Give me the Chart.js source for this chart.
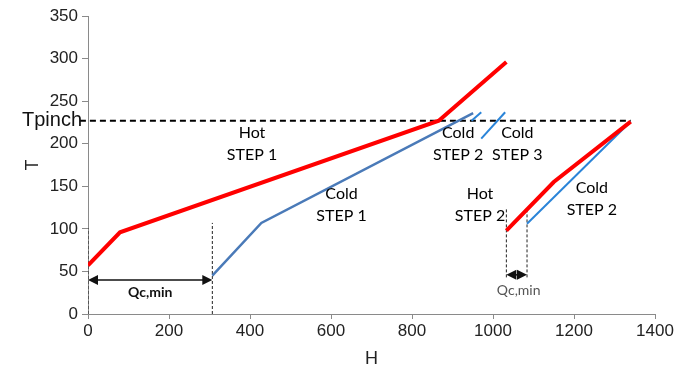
<!DOCTYPE html>
<html>
<head>
<meta charset="utf-8">
<script src="https://cdn.jsdelivr.net/npm/chart.js@4.4.1/dist/chart.umd.min.js"></script>
<style>
  html, body { margin: 0; padding: 0; background: #fff; }
  #wrap { width: 683px; height: 373px; }
</style>
</head>
<body>
<div id="wrap"><canvas id="chart" width="683" height="373"></canvas></div>
<script>
// composite curves, H vs T
const hot1H = [0, 79, 866, 1033];
const hot1T = [57, 96, 227, 296];
const cold1H = [307, 428, 951];
const cold1T = [45, 107, 236];
const cold2aH = [947, 971];
const cold2aT = [227, 237];
const cold3H = [971, 1030];
const cold3T = [206, 237];
const hot2H = [1033, 1150, 1340];
const hot2T = [98, 155, 226];
const cold2bH = [1084, 1340];
const cold2bT = [106, 226];

const tPinch = 227;
const pinchH = [-20, 1340];

// Qc,min markers
const qcLeftH = [0, 307];
const qcLeftTop = [101, 107];
const qcLeftT = 40;
const qcRightH = [1033, 1084];
const qcRightTop = [125, 125];
const qcRightBottom = 43;
const qcRightT = 46;

const xTicks = [0, 200, 400, 600, 800, 1000, 1200, 1400];
const yTicks = [0, 50, 100, 150, 200, 250, 300, 350];

// text notes: [H, T, line1, line2]
const notes = [
  [405, 200, 'Hot', 'STEP 1'],
  [626, 128, 'Cold', 'STEP 1'],
  [914, 200, 'Cold', 'STEP 2'],
  [1060, 200, 'Cold', 'STEP 3'],
  [968, 128, 'Hot', 'STEP 2'],
  [1244, 135, 'Cold', 'STEP 2']
];

function pts(xs, ys) {
  return xs.map((x, i) => ({x: x, y: ys[i]}));
}

function line(xs, ys, color, width, dash) {
  return {
    data: pts(xs, ys),
    showLine: true,
    borderColor: color,
    backgroundColor: color,
    borderWidth: width,
    borderDash: dash || [],
    pointRadius: 0,
    tension: 0
  };
}

const datasets = [
  line(hot1H, hot1T, '#ff0000', 4),
  line(cold1H, cold1T, '#4a7ab8', 2.5),
  line(cold2aH, cold2aT, '#2a84d8', 2),
  line(cold3H, cold3T, '#2a84d8', 2),
  line(hot2H, hot2T, '#ff0000', 4),
  line(cold2bH, cold2bT, '#2a84d8', 2)
];

const pinch = line(pinchH, [tPinch, tPinch], '#000', 2, [6, 4]);
pinch.clip = false;
datasets.push(pinch);

qcLeftH.forEach((h, i) => {
  datasets.push(line([h, h], [0, qcLeftTop[i]], '#222', 1, [3, 2]));
});
qcRightH.forEach((h, i) => {
  datasets.push(line([h, h], [qcRightBottom, qcRightTop[i]], '#222', 1, [3, 2]));
});

function arrow(ctx, x1, x2, y) {
  ctx.save();
  ctx.strokeStyle = '#111';
  ctx.fillStyle = '#111';
  ctx.lineWidth = 1.5;
  ctx.beginPath();
  ctx.moveTo(x1 + 8, y);
  ctx.lineTo(x2 - 8, y);
  ctx.stroke();
  ctx.beginPath();
  ctx.moveTo(x1, y);
  ctx.lineTo(x1 + 10, y - 5);
  ctx.lineTo(x1 + 10, y + 5);
  ctx.closePath();
  ctx.fill();
  ctx.beginPath();
  ctx.moveTo(x2, y);
  ctx.lineTo(x2 - 10, y - 5);
  ctx.lineTo(x2 - 10, y + 5);
  ctx.closePath();
  ctx.fill();
  ctx.restore();
}

const extras = {
  id: 'extras',
  afterDatasetsDraw(chart) {
    const ctx = chart.ctx;
    const xs = chart.scales.x;
    const ys = chart.scales.y;

    ctx.save();
    ctx.fillStyle = '#000';
    ctx.font = '16px Lato';
    ctx.textAlign = 'center';
    ctx.textBaseline = 'middle';
    notes.forEach(n => {
      const px = xs.getPixelForValue(n[0]);
      const py = ys.getPixelForValue(n[1]);
      ctx.fillText(n[2], px, py - 11);
      ctx.fillText(n[3], px, py + 11);
    });

    // Tpinch label
    ctx.font = '20px "Liberation Sans"';
    ctx.textAlign = 'right';
    ctx.fillStyle = '#111';
    ctx.fillText('Tpinch', 82, ys.getPixelForValue(tPinch));

    // Qc,min arrows
    arrow(ctx, xs.getPixelForValue(qcLeftH[0]), xs.getPixelForValue(qcLeftH[1]), ys.getPixelForValue(qcLeftT));
    arrow(ctx, xs.getPixelForValue(qcRightH[0]), xs.getPixelForValue(qcRightH[1]), ys.getPixelForValue(qcRightT));

    ctx.textAlign = 'center';
    ctx.font = 'bold 14px Lato';
    ctx.fillStyle = '#111';
    ctx.fillText('Qc,min', xs.getPixelForValue((qcLeftH[0] + qcLeftH[1]) / 2), ys.getPixelForValue(qcLeftT) + 13);
    ctx.font = '14px Lato';
    ctx.fillStyle = '#555';
    ctx.fillText('Qc,min', xs.getPixelForValue((qcRightH[0] + qcRightH[1]) / 2) + 2, ys.getPixelForValue(qcRightT) + 16);
    ctx.restore();
  }
};

const tickFont = {family: '"Liberation Sans", Arial', size: 17};

new Chart(document.getElementById('chart').getContext('2d'), {
  type: 'scatter',
  data: {datasets: datasets},
  plugins: [extras],
  options: {
    responsive: false,
    animation: false,
    layout: {padding: {left: 0, right: 28, top: 16, bottom: 0}},
    plugins: {legend: {display: false}, tooltip: {enabled: false}},
    scales: {
      x: {
        type: 'linear',
        min: 0,
        max: 1400,
        afterBuildTicks(scale) {
          scale.ticks = xTicks.map(v => ({value: v}));
        },
        afterFit(scale) { scale.height = 59; },
        grid: {drawOnChartArea: false, drawTicks: true, tickLength: 5, color: '#8a8a8a'},
        border: {color: '#8a8a8a', width: 1},
        ticks: {font: tickFont, color: '#222', padding: 2, maxRotation: 0, callback: v => String(v)},
        title: {display: true, text: 'H', font: {family: '"Liberation Sans", Arial', size: 18}, color: '#222', padding: {top: 0, bottom: 3}}
      },
      y: {
        type: 'linear',
        min: 0,
        max: 350,
        afterBuildTicks(scale) {
          scale.ticks = yTicks.map(v => ({value: v}));
        },
        afterFit(scale) { scale.width = 88; },
        grid: {drawOnChartArea: false, drawTicks: true, tickLength: 6, color: '#8a8a8a'},
        border: {color: '#8a8a8a', width: 1},
        ticks: {font: tickFont, color: '#222', padding: 4, callback: v => String(v)},
        title: {display: true, text: 'T', font: {family: '"Liberation Sans", Arial', size: 18}, color: '#222', padding: {top: 22, bottom: 0}}
      }
    }
  }
});
</script>
</body>
</html>
